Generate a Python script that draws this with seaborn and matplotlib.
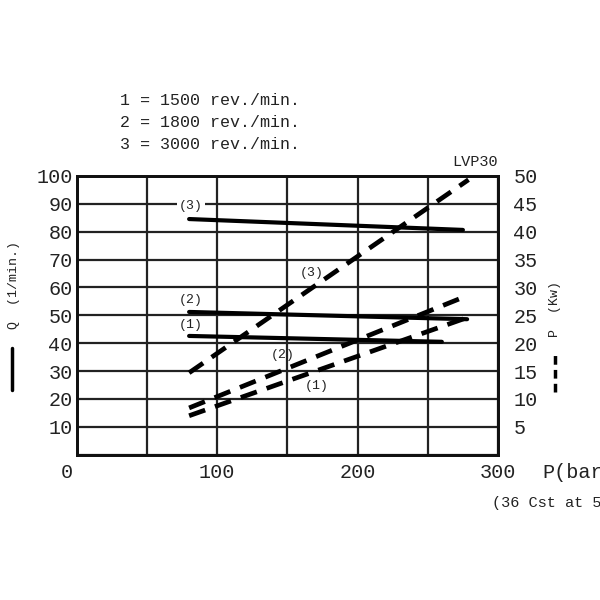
import matplotlib
matplotlib.use("Agg")
import matplotlib.pyplot as plt
import seaborn as sns
import pandas as pd

# flow Q (l/min) vs pressure (bar), solid lines
q_speeds = ["(1)", "(2)", "(3)"]
q_press_start = [80, 80, 80]
q_press_end = [260, 278, 275]
q_flow_start = [42.6, 51.2, 84.5]
q_flow_end = [40.5, 48.6, 80.6]

# power P (Kw) vs pressure (bar), dashed lines
p_press_start = [80, 80, 80]
p_press_end = [277, 273, 279]
p_power_start = [7.0, 8.4, 14.7]
p_power_end = [24.5, 28.0, 49.3]

legend_lines = ["1 = 1500 rev./min.", "2 = 1800 rev./min.", "3 = 3000 rev./min."]
x_ticks = [0, 100, 200, 300]
q_ticks = [10, 20, 30, 40, 50, 60, 70, 80, 90, 100]
p_ticks = [5, 10, 15, 20, 25, 30, 35, 40, 45, 50]

sns.set_style("white")
plt.rcParams["font.family"] = ["Liberation Mono", "DejaVu Sans Mono"]

q_df = pd.DataFrame({
    "speed": q_speeds * 2,
    "bar": q_press_start + q_press_end,
    "Q": q_flow_start + q_flow_end,
})
p_df = pd.DataFrame({
    "speed": q_speeds * 2,
    "bar": p_press_start + p_press_end,
    "P": p_power_start + p_power_end,
})

fig = plt.figure(figsize=(6, 6), dpi=100)
ax = fig.add_axes([0.128, 0.242, 0.702, 0.465])
ax2 = ax.twinx()

sns.lineplot(data=q_df, x="bar", y="Q", units="speed", estimator=None,
             color="black", lw=3, ax=ax, zorder=3)
sns.lineplot(data=p_df, x="bar", y="P", units="speed", estimator=None,
             color="black", lw=3.4, ax=ax2, zorder=3)
for ln in ax2.get_lines():
    ln.set_dashes([3.6, 2.2])

ax.set_xlim(0, 300)
ax.set_ylim(0, 100)
ax2.set_ylim(0, 50)
ax.set_xticks([0, 50, 100, 150, 200, 250, 300])
ax.set_yticks([0] + q_ticks)
ax2.set_yticks(p_ticks)
ax.grid(True, color="#222222", lw=1.6)
ax.set_xticklabels([])
ax.set_yticklabels([""] + [str(v) for v in q_ticks], fontsize=14.5, color="#222222")
ax2.set_yticklabels([str(v) for v in p_ticks], fontsize=14.5, color="#222222")
ax.tick_params(length=0, pad=3)
ax2.tick_params(length=0, pad=11)
ax.set_xlabel("")
ax.set_ylabel("")
ax2.set_ylabel("")
for a in (ax, ax2):
    for s in a.spines.values():
        s.set_color("#111111")
        s.set_linewidth(2)

# x tick labels placed under the axis
for v in x_ticks:
    off = -7 if v == 0 else 0
    ax.annotate(str(v), xy=(v, 0), xycoords="data", xytext=(off, -6),
                textcoords="offset points", ha="center", va="top",
                fontsize=14.5, color="#222222", annotation_clip=False)
ax.annotate("P(bar)", xy=(300, 0), xytext=(32, -6), textcoords="offset points",
            ha="left", va="top", fontsize=14.5, color="#222222", annotation_clip=False)
ax.annotate("(36 Cst at 50°C)", xy=(300, 0), xytext=(-4, -30), textcoords="offset points",
            ha="left", va="top", fontsize=11, color="#222222", annotation_clip=False)

# curve labels
lbl = dict(fontsize=9.5, color="#222222", ha="center", va="center", zorder=4,
           bbox=dict(boxstyle="square,pad=0.15", fc="white", ec="none"))
ax.text(81, 89.0, "(3)", **lbl)
ax.text(81.5, 55.6, "(2)", **lbl)
ax.text(81.5, 46.6, "(1)", **lbl)
lbl["bbox"] = None
ax.text(167, 65.2, "(3)", **lbl)
ax.text(147, 35.8, "(2)", **lbl)
ax.text(171, 24.7, "(1)", **lbl)

# titles / side labels
for i, t in enumerate(legend_lines):
    fig.text(0.2, 0.833 - i * 0.037, t, fontsize=12, color="#222222", va="center")
fig.text(0.83, 0.73, "LVP30", fontsize=11, color="#222222", ha="right", va="center")
fig.text(0.023, 0.525, "Q  (1/min.)", rotation=90, fontsize=9.5, color="#222222",
         ha="center", va="center")
fig.text(0.925, 0.485, "P  (Kw)", rotation=90, fontsize=9.5, color="#222222",
         ha="center", va="center")
fig.add_artist(plt.Line2D([0.02, 0.02], [0.35, 0.42], color="black", lw=2.5))
fig.add_artist(plt.Line2D([0.925, 0.925], [0.346, 0.413], color="black", lw=2.5,
                          dashes=[2.5, 1.5]))

fig.savefig("out.png", dpi=100)
